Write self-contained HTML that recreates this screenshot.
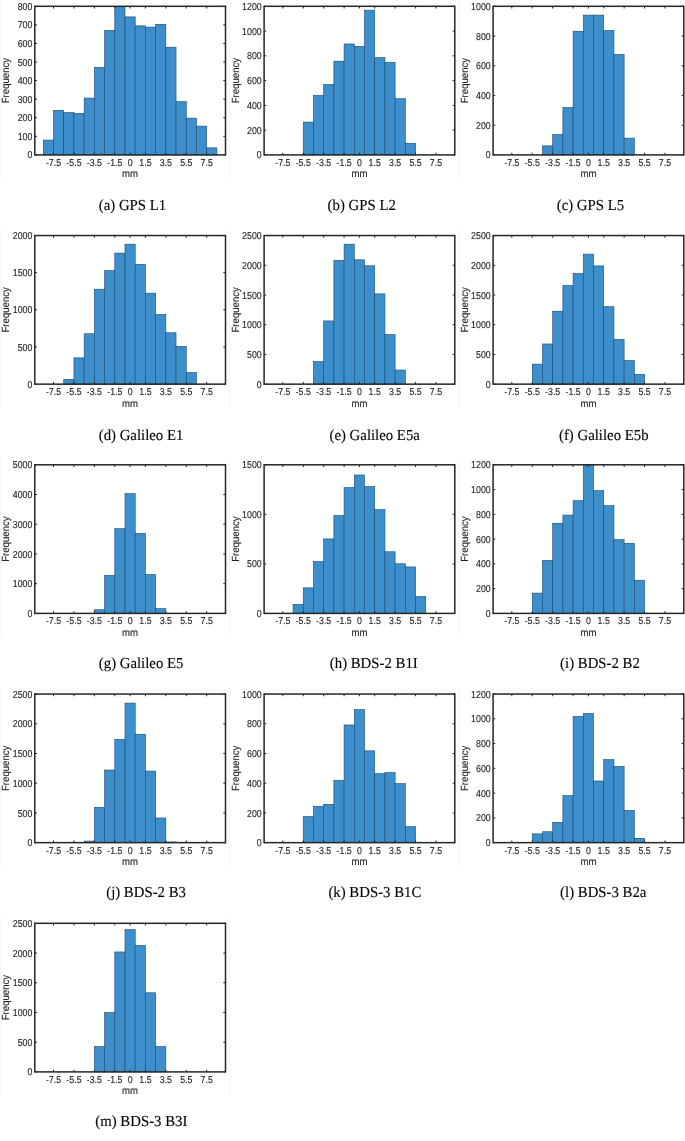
<!DOCTYPE html>
<html><head><meta charset="utf-8"><title>Histograms</title>
<style>
html,body{margin:0;padding:0;background:#fff;}
body{width:685px;height:1141px;overflow:hidden;}
svg{display:block;will-change:transform;text-rendering:geometricPrecision;font-family:"Liberation Sans",sans-serif;}
.cap{font-family:"Liberation Serif",serif;font-size:14.8px;fill:#000;stroke:#000;stroke-width:0.12px;}
</style></head><body>
<svg width="685" height="1141" viewBox="0 0 685 1141">
<path d="M1 0V178.2M229.5 0V178.2M458.9 0V178.2M1 229.25V407.45M229.5 229.25V407.45M458.9 229.25V407.45M1 458.5V636.7M229.5 458.5V636.7M458.9 458.5V636.7M1 687.75V865.95M229.5 687.75V865.95M458.9 687.75V865.95M1 917V1095.2M229.5 917V1095.2" stroke="#f6f6f6" stroke-width="1.2" fill="none"/>
<g fill="#3d8fcc" stroke="#1c4a72" stroke-width="0.6"><rect x="43.31" y="140.04" width="10.21" height="14.86"/><rect x="53.52" y="110.32" width="10.21" height="44.58"/><rect x="63.73" y="112.55" width="10.21" height="42.35"/><rect x="73.94" y="113.29" width="10.21" height="41.61"/><rect x="84.15" y="98.06" width="10.21" height="56.84"/><rect x="94.36" y="67.41" width="10.21" height="87.49"/><rect x="104.57" y="30.45" width="10.21" height="124.45"/><rect x="114.78" y="6.3" width="10.21" height="148.6"/><rect x="124.99" y="16.89" width="10.21" height="138.01"/><rect x="135.2" y="25.8" width="10.21" height="129.1"/><rect x="145.41" y="27.1" width="10.21" height="127.8"/><rect x="155.62" y="24.32" width="10.21" height="130.58"/><rect x="165.83" y="47.17" width="10.21" height="107.73"/><rect x="176.05" y="101.59" width="10.21" height="53.31"/><rect x="186.25" y="118.12" width="10.21" height="36.78"/><rect x="196.47" y="126.11" width="10.21" height="28.79"/><rect x="206.68" y="147.84" width="10.21" height="7.06"/></g>
<path d="M53.52 154.9v-2.2M53.52 6.3v2.2M73.94 154.9v-2.2M73.94 6.3v2.2M94.36 154.9v-2.2M94.36 6.3v2.2M114.78 154.9v-2.2M114.78 6.3v2.2M130.1 154.9v-2.2M130.1 6.3v2.2M145.41 154.9v-2.2M145.41 6.3v2.2M165.83 154.9v-2.2M165.83 6.3v2.2M186.25 154.9v-2.2M186.25 6.3v2.2M206.68 154.9v-2.2M206.68 6.3v2.2M34.8 154.9h2.2M225.5 154.9h-2.2M34.8 136.33h2.2M225.5 136.33h-2.2M34.8 117.75h2.2M225.5 117.75h-2.2M34.8 99.18h2.2M225.5 99.18h-2.2M34.8 80.6h2.2M225.5 80.6h-2.2M34.8 62.03h2.2M225.5 62.03h-2.2M34.8 43.45h2.2M225.5 43.45h-2.2M34.8 24.88h2.2M225.5 24.88h-2.2M34.8 6.3h2.2M225.5 6.3h-2.2" stroke="#262626" stroke-width="1" fill="none"/>
<rect x="34.8" y="6.3" width="190.7" height="148.6" fill="none" stroke="#262626" stroke-width="1.5"/>
<g font-size="8.8" fill="#262626" stroke="#262626" stroke-width="0.12"><text transform="translate(32.4 158.49) scale(1 1.14)" text-anchor="end">0</text><text transform="translate(32.4 139.92) scale(1 1.14)" text-anchor="end">100</text><text transform="translate(32.4 121.34) scale(1 1.14)" text-anchor="end">200</text><text transform="translate(32.4 102.77) scale(1 1.14)" text-anchor="end">300</text><text transform="translate(32.4 84.19) scale(1 1.14)" text-anchor="end">400</text><text transform="translate(32.4 65.62) scale(1 1.14)" text-anchor="end">500</text><text transform="translate(32.4 47.04) scale(1 1.14)" text-anchor="end">600</text><text transform="translate(32.4 28.47) scale(1 1.14)" text-anchor="end">700</text><text transform="translate(32.4 9.89) scale(1 1.14)" text-anchor="end">800</text><text transform="translate(53.52 165.9) scale(1 1.14)" text-anchor="middle">-7.5</text><text transform="translate(73.94 165.9) scale(1 1.14)" text-anchor="middle">-5.5</text><text transform="translate(94.36 165.9) scale(1 1.14)" text-anchor="middle">-3.5</text><text transform="translate(114.78 165.9) scale(1 1.14)" text-anchor="middle">-1.5</text><text transform="translate(130.1 165.9) scale(1 1.14)" text-anchor="middle">0</text><text transform="translate(145.41 165.9) scale(1 1.14)" text-anchor="middle">1.5</text><text transform="translate(165.83 165.9) scale(1 1.14)" text-anchor="middle">3.5</text><text transform="translate(186.25 165.9) scale(1 1.14)" text-anchor="middle">5.5</text><text transform="translate(206.68 165.9) scale(1 1.14)" text-anchor="middle">7.5</text></g>
<text font-size="9.6" fill="#262626" stroke="#262626" stroke-width="0.12" text-anchor="middle" transform="translate(9.2 80.6) rotate(-90) scale(1 1.08)">Frequency</text>
<text font-size="9.6" fill="#262626" stroke="#262626" stroke-width="0.12" text-anchor="middle" transform="translate(130.1 177.4) scale(1 1.08)">mm</text>
<text class="cap" transform="translate(98.8 209.6) scale(1 1.03)">(a) GPS L1</text>
<g fill="#3d8fcc" stroke="#1c4a72" stroke-width="0.6"><rect x="303.25" y="122.08" width="10.21" height="32.82"/><rect x="313.45" y="95.34" width="10.21" height="59.56"/><rect x="323.66" y="84.44" width="10.21" height="70.46"/><rect x="333.88" y="61.16" width="10.21" height="93.74"/><rect x="344.08" y="43.95" width="10.21" height="110.95"/><rect x="354.29" y="46.3" width="10.21" height="108.6"/><rect x="364.5" y="10.14" width="10.21" height="144.76"/><rect x="374.71" y="57.57" width="10.21" height="97.33"/><rect x="384.92" y="62.27" width="10.21" height="92.63"/><rect x="395.13" y="98.68" width="10.21" height="56.22"/><rect x="405.34" y="143.26" width="10.21" height="11.64"/></g>
<path d="M282.82 154.9v-2.2M282.82 6.3v2.2M303.25 154.9v-2.2M303.25 6.3v2.2M323.66 154.9v-2.2M323.66 6.3v2.2M344.08 154.9v-2.2M344.08 6.3v2.2M359.4 154.9v-2.2M359.4 6.3v2.2M374.71 154.9v-2.2M374.71 6.3v2.2M395.13 154.9v-2.2M395.13 6.3v2.2M415.55 154.9v-2.2M415.55 6.3v2.2M435.97 154.9v-2.2M435.97 6.3v2.2M264.1 154.9h2.2M454.8 154.9h-2.2M264.1 130.13h2.2M454.8 130.13h-2.2M264.1 105.37h2.2M454.8 105.37h-2.2M264.1 80.6h2.2M454.8 80.6h-2.2M264.1 55.83h2.2M454.8 55.83h-2.2M264.1 31.07h2.2M454.8 31.07h-2.2M264.1 6.3h2.2M454.8 6.3h-2.2" stroke="#262626" stroke-width="1" fill="none"/>
<rect x="264.1" y="6.3" width="190.7" height="148.6" fill="none" stroke="#262626" stroke-width="1.5"/>
<g font-size="8.8" fill="#262626" stroke="#262626" stroke-width="0.12"><text transform="translate(261.7 158.49) scale(1 1.14)" text-anchor="end">0</text><text transform="translate(261.7 133.72) scale(1 1.14)" text-anchor="end">200</text><text transform="translate(261.7 108.96) scale(1 1.14)" text-anchor="end">400</text><text transform="translate(261.7 84.19) scale(1 1.14)" text-anchor="end">600</text><text transform="translate(261.7 59.42) scale(1 1.14)" text-anchor="end">800</text><text transform="translate(261.7 34.66) scale(1 1.14)" text-anchor="end">1000</text><text transform="translate(261.7 9.89) scale(1 1.14)" text-anchor="end">1200</text><text transform="translate(282.82 165.9) scale(1 1.14)" text-anchor="middle">-7.5</text><text transform="translate(303.25 165.9) scale(1 1.14)" text-anchor="middle">-5.5</text><text transform="translate(323.66 165.9) scale(1 1.14)" text-anchor="middle">-3.5</text><text transform="translate(344.08 165.9) scale(1 1.14)" text-anchor="middle">-1.5</text><text transform="translate(359.4 165.9) scale(1 1.14)" text-anchor="middle">0</text><text transform="translate(374.71 165.9) scale(1 1.14)" text-anchor="middle">1.5</text><text transform="translate(395.13 165.9) scale(1 1.14)" text-anchor="middle">3.5</text><text transform="translate(415.55 165.9) scale(1 1.14)" text-anchor="middle">5.5</text><text transform="translate(435.97 165.9) scale(1 1.14)" text-anchor="middle">7.5</text></g>
<text font-size="9.6" fill="#262626" stroke="#262626" stroke-width="0.12" text-anchor="middle" transform="translate(238.5 80.6) rotate(-90) scale(1 1.08)">Frequency</text>
<text font-size="9.6" fill="#262626" stroke="#262626" stroke-width="0.12" text-anchor="middle" transform="translate(359.4 177.4) scale(1 1.08)">mm</text>
<text class="cap" transform="translate(327.6 209.6) scale(1 1.03)">(b) GPS L2</text>
<g fill="#3d8fcc" stroke="#1c4a72" stroke-width="0.6"><rect x="542.45" y="145.84" width="10.21" height="9.06"/><rect x="552.66" y="134.69" width="10.21" height="20.21"/><rect x="562.88" y="107.5" width="10.21" height="47.4"/><rect x="573.08" y="31.26" width="10.21" height="123.64"/><rect x="583.29" y="15.07" width="10.21" height="139.83"/><rect x="593.5" y="15.07" width="10.21" height="139.83"/><rect x="603.72" y="30.52" width="10.21" height="124.38"/><rect x="613.92" y="54.45" width="10.21" height="100.45"/><rect x="624.13" y="138.11" width="10.21" height="16.79"/></g>
<path d="M511.82 154.9v-2.2M511.82 6.3v2.2M532.25 154.9v-2.2M532.25 6.3v2.2M552.66 154.9v-2.2M552.66 6.3v2.2M573.08 154.9v-2.2M573.08 6.3v2.2M588.4 154.9v-2.2M588.4 6.3v2.2M603.72 154.9v-2.2M603.72 6.3v2.2M624.13 154.9v-2.2M624.13 6.3v2.2M644.55 154.9v-2.2M644.55 6.3v2.2M664.98 154.9v-2.2M664.98 6.3v2.2M493.1 154.9h2.2M683.8 154.9h-2.2M493.1 125.18h2.2M683.8 125.18h-2.2M493.1 95.46h2.2M683.8 95.46h-2.2M493.1 65.74h2.2M683.8 65.74h-2.2M493.1 36.02h2.2M683.8 36.02h-2.2M493.1 6.3h2.2M683.8 6.3h-2.2" stroke="#262626" stroke-width="1" fill="none"/>
<rect x="493.1" y="6.3" width="190.7" height="148.6" fill="none" stroke="#262626" stroke-width="1.5"/>
<g font-size="8.8" fill="#262626" stroke="#262626" stroke-width="0.12"><text transform="translate(490.7 158.49) scale(1 1.14)" text-anchor="end">0</text><text transform="translate(490.7 128.77) scale(1 1.14)" text-anchor="end">200</text><text transform="translate(490.7 99.05) scale(1 1.14)" text-anchor="end">400</text><text transform="translate(490.7 69.33) scale(1 1.14)" text-anchor="end">600</text><text transform="translate(490.7 39.61) scale(1 1.14)" text-anchor="end">800</text><text transform="translate(490.7 9.89) scale(1 1.14)" text-anchor="end">1000</text><text transform="translate(511.82 165.9) scale(1 1.14)" text-anchor="middle">-7.5</text><text transform="translate(532.25 165.9) scale(1 1.14)" text-anchor="middle">-5.5</text><text transform="translate(552.66 165.9) scale(1 1.14)" text-anchor="middle">-3.5</text><text transform="translate(573.08 165.9) scale(1 1.14)" text-anchor="middle">-1.5</text><text transform="translate(588.4 165.9) scale(1 1.14)" text-anchor="middle">0</text><text transform="translate(603.72 165.9) scale(1 1.14)" text-anchor="middle">1.5</text><text transform="translate(624.13 165.9) scale(1 1.14)" text-anchor="middle">3.5</text><text transform="translate(644.55 165.9) scale(1 1.14)" text-anchor="middle">5.5</text><text transform="translate(664.98 165.9) scale(1 1.14)" text-anchor="middle">7.5</text></g>
<text font-size="9.6" fill="#262626" stroke="#262626" stroke-width="0.12" text-anchor="middle" transform="translate(467.5 80.6) rotate(-90) scale(1 1.08)">Frequency</text>
<text font-size="9.6" fill="#262626" stroke="#262626" stroke-width="0.12" text-anchor="middle" transform="translate(588.4 177.4) scale(1 1.08)">mm</text>
<text class="cap" transform="translate(556.7 209.6) scale(1 1.03)">(c) GPS L5</text>
<g fill="#3d8fcc" stroke="#1c4a72" stroke-width="0.6"><rect x="63.73" y="379.32" width="10.21" height="4.83"/><rect x="73.94" y="357.85" width="10.21" height="26.3"/><rect x="84.15" y="333.77" width="10.21" height="50.38"/><rect x="94.36" y="289.19" width="10.21" height="94.96"/><rect x="104.57" y="270.62" width="10.21" height="113.53"/><rect x="114.78" y="253.08" width="10.21" height="131.07"/><rect x="124.99" y="244.17" width="10.21" height="139.98"/><rect x="135.2" y="264.38" width="10.21" height="119.77"/><rect x="145.41" y="293.13" width="10.21" height="91.02"/><rect x="155.62" y="314.46" width="10.21" height="69.69"/><rect x="165.83" y="332.73" width="10.21" height="51.42"/><rect x="176.05" y="346.33" width="10.21" height="37.82"/><rect x="186.25" y="372.48" width="10.21" height="11.67"/></g>
<path d="M53.52 384.15v-2.2M53.52 235.55v2.2M73.94 384.15v-2.2M73.94 235.55v2.2M94.36 384.15v-2.2M94.36 235.55v2.2M114.78 384.15v-2.2M114.78 235.55v2.2M130.1 384.15v-2.2M130.1 235.55v2.2M145.41 384.15v-2.2M145.41 235.55v2.2M165.83 384.15v-2.2M165.83 235.55v2.2M186.25 384.15v-2.2M186.25 235.55v2.2M206.68 384.15v-2.2M206.68 235.55v2.2M34.8 384.15h2.2M225.5 384.15h-2.2M34.8 347h2.2M225.5 347h-2.2M34.8 309.85h2.2M225.5 309.85h-2.2M34.8 272.7h2.2M225.5 272.7h-2.2M34.8 235.55h2.2M225.5 235.55h-2.2" stroke="#262626" stroke-width="1" fill="none"/>
<rect x="34.8" y="235.55" width="190.7" height="148.6" fill="none" stroke="#262626" stroke-width="1.5"/>
<g font-size="8.8" fill="#262626" stroke="#262626" stroke-width="0.12"><text transform="translate(32.4 387.74) scale(1 1.14)" text-anchor="end">0</text><text transform="translate(32.4 350.59) scale(1 1.14)" text-anchor="end">500</text><text transform="translate(32.4 313.44) scale(1 1.14)" text-anchor="end">1000</text><text transform="translate(32.4 276.29) scale(1 1.14)" text-anchor="end">1500</text><text transform="translate(32.4 239.14) scale(1 1.14)" text-anchor="end">2000</text><text transform="translate(53.52 395.15) scale(1 1.14)" text-anchor="middle">-7.5</text><text transform="translate(73.94 395.15) scale(1 1.14)" text-anchor="middle">-5.5</text><text transform="translate(94.36 395.15) scale(1 1.14)" text-anchor="middle">-3.5</text><text transform="translate(114.78 395.15) scale(1 1.14)" text-anchor="middle">-1.5</text><text transform="translate(130.1 395.15) scale(1 1.14)" text-anchor="middle">0</text><text transform="translate(145.41 395.15) scale(1 1.14)" text-anchor="middle">1.5</text><text transform="translate(165.83 395.15) scale(1 1.14)" text-anchor="middle">3.5</text><text transform="translate(186.25 395.15) scale(1 1.14)" text-anchor="middle">5.5</text><text transform="translate(206.68 395.15) scale(1 1.14)" text-anchor="middle">7.5</text></g>
<text font-size="9.6" fill="#262626" stroke="#262626" stroke-width="0.12" text-anchor="middle" transform="translate(9.2 309.85) rotate(-90) scale(1 1.08)">Frequency</text>
<text font-size="9.6" fill="#262626" stroke="#262626" stroke-width="0.12" text-anchor="middle" transform="translate(130.1 406.65) scale(1 1.08)">mm</text>
<text class="cap" transform="translate(98.7 440.1) scale(1 1.03)">(d) Galileo E1</text>
<g fill="#3d8fcc" stroke="#1c4a72" stroke-width="0.6"><rect x="313.45" y="361.5" width="10.21" height="22.65"/><rect x="323.66" y="320.91" width="10.21" height="63.24"/><rect x="333.88" y="260.28" width="10.21" height="123.87"/><rect x="344.08" y="244.17" width="10.21" height="139.98"/><rect x="354.29" y="259.8" width="10.21" height="124.35"/><rect x="364.5" y="265.8" width="10.21" height="118.35"/><rect x="374.71" y="293.86" width="10.21" height="90.29"/><rect x="384.92" y="334.64" width="10.21" height="49.51"/><rect x="395.13" y="370" width="10.21" height="14.15"/></g>
<path d="M282.82 384.15v-2.2M282.82 235.55v2.2M303.25 384.15v-2.2M303.25 235.55v2.2M323.66 384.15v-2.2M323.66 235.55v2.2M344.08 384.15v-2.2M344.08 235.55v2.2M359.4 384.15v-2.2M359.4 235.55v2.2M374.71 384.15v-2.2M374.71 235.55v2.2M395.13 384.15v-2.2M395.13 235.55v2.2M415.55 384.15v-2.2M415.55 235.55v2.2M435.97 384.15v-2.2M435.97 235.55v2.2M264.1 384.15h2.2M454.8 384.15h-2.2M264.1 354.43h2.2M454.8 354.43h-2.2M264.1 324.71h2.2M454.8 324.71h-2.2M264.1 294.99h2.2M454.8 294.99h-2.2M264.1 265.27h2.2M454.8 265.27h-2.2M264.1 235.55h2.2M454.8 235.55h-2.2" stroke="#262626" stroke-width="1" fill="none"/>
<rect x="264.1" y="235.55" width="190.7" height="148.6" fill="none" stroke="#262626" stroke-width="1.5"/>
<g font-size="8.8" fill="#262626" stroke="#262626" stroke-width="0.12"><text transform="translate(261.7 387.74) scale(1 1.14)" text-anchor="end">0</text><text transform="translate(261.7 358.02) scale(1 1.14)" text-anchor="end">500</text><text transform="translate(261.7 328.3) scale(1 1.14)" text-anchor="end">1000</text><text transform="translate(261.7 298.58) scale(1 1.14)" text-anchor="end">1500</text><text transform="translate(261.7 268.86) scale(1 1.14)" text-anchor="end">2000</text><text transform="translate(261.7 239.14) scale(1 1.14)" text-anchor="end">2500</text><text transform="translate(282.82 395.15) scale(1 1.14)" text-anchor="middle">-7.5</text><text transform="translate(303.25 395.15) scale(1 1.14)" text-anchor="middle">-5.5</text><text transform="translate(323.66 395.15) scale(1 1.14)" text-anchor="middle">-3.5</text><text transform="translate(344.08 395.15) scale(1 1.14)" text-anchor="middle">-1.5</text><text transform="translate(359.4 395.15) scale(1 1.14)" text-anchor="middle">0</text><text transform="translate(374.71 395.15) scale(1 1.14)" text-anchor="middle">1.5</text><text transform="translate(395.13 395.15) scale(1 1.14)" text-anchor="middle">3.5</text><text transform="translate(415.55 395.15) scale(1 1.14)" text-anchor="middle">5.5</text><text transform="translate(435.97 395.15) scale(1 1.14)" text-anchor="middle">7.5</text></g>
<text font-size="9.6" fill="#262626" stroke="#262626" stroke-width="0.12" text-anchor="middle" transform="translate(238.5 309.85) rotate(-90) scale(1 1.08)">Frequency</text>
<text font-size="9.6" fill="#262626" stroke="#262626" stroke-width="0.12" text-anchor="middle" transform="translate(359.4 406.65) scale(1 1.08)">mm</text>
<text class="cap" transform="translate(329.5 440.1) scale(1 1.03)">(e) Galileo E5a</text>
<g fill="#3d8fcc" stroke="#1c4a72" stroke-width="0.6"><rect x="532.25" y="364.12" width="10.21" height="20.03"/><rect x="542.45" y="343.97" width="10.21" height="40.18"/><rect x="552.66" y="311.22" width="10.21" height="72.93"/><rect x="562.88" y="285.54" width="10.21" height="98.61"/><rect x="573.08" y="273.53" width="10.21" height="110.62"/><rect x="583.29" y="254.1" width="10.21" height="130.05"/><rect x="593.5" y="265.92" width="10.21" height="118.23"/><rect x="603.72" y="306.7" width="10.21" height="77.45"/><rect x="613.92" y="339.27" width="10.21" height="44.88"/><rect x="624.13" y="360.49" width="10.21" height="23.66"/><rect x="634.35" y="374.34" width="10.21" height="9.81"/></g>
<path d="M511.82 384.15v-2.2M511.82 235.55v2.2M532.25 384.15v-2.2M532.25 235.55v2.2M552.66 384.15v-2.2M552.66 235.55v2.2M573.08 384.15v-2.2M573.08 235.55v2.2M588.4 384.15v-2.2M588.4 235.55v2.2M603.72 384.15v-2.2M603.72 235.55v2.2M624.13 384.15v-2.2M624.13 235.55v2.2M644.55 384.15v-2.2M644.55 235.55v2.2M664.98 384.15v-2.2M664.98 235.55v2.2M493.1 384.15h2.2M683.8 384.15h-2.2M493.1 354.43h2.2M683.8 354.43h-2.2M493.1 324.71h2.2M683.8 324.71h-2.2M493.1 294.99h2.2M683.8 294.99h-2.2M493.1 265.27h2.2M683.8 265.27h-2.2M493.1 235.55h2.2M683.8 235.55h-2.2" stroke="#262626" stroke-width="1" fill="none"/>
<rect x="493.1" y="235.55" width="190.7" height="148.6" fill="none" stroke="#262626" stroke-width="1.5"/>
<g font-size="8.8" fill="#262626" stroke="#262626" stroke-width="0.12"><text transform="translate(490.7 387.74) scale(1 1.14)" text-anchor="end">0</text><text transform="translate(490.7 358.02) scale(1 1.14)" text-anchor="end">500</text><text transform="translate(490.7 328.3) scale(1 1.14)" text-anchor="end">1000</text><text transform="translate(490.7 298.58) scale(1 1.14)" text-anchor="end">1500</text><text transform="translate(490.7 268.86) scale(1 1.14)" text-anchor="end">2000</text><text transform="translate(490.7 239.14) scale(1 1.14)" text-anchor="end">2500</text><text transform="translate(511.82 395.15) scale(1 1.14)" text-anchor="middle">-7.5</text><text transform="translate(532.25 395.15) scale(1 1.14)" text-anchor="middle">-5.5</text><text transform="translate(552.66 395.15) scale(1 1.14)" text-anchor="middle">-3.5</text><text transform="translate(573.08 395.15) scale(1 1.14)" text-anchor="middle">-1.5</text><text transform="translate(588.4 395.15) scale(1 1.14)" text-anchor="middle">0</text><text transform="translate(603.72 395.15) scale(1 1.14)" text-anchor="middle">1.5</text><text transform="translate(624.13 395.15) scale(1 1.14)" text-anchor="middle">3.5</text><text transform="translate(644.55 395.15) scale(1 1.14)" text-anchor="middle">5.5</text><text transform="translate(664.98 395.15) scale(1 1.14)" text-anchor="middle">7.5</text></g>
<text font-size="9.6" fill="#262626" stroke="#262626" stroke-width="0.12" text-anchor="middle" transform="translate(467.5 309.85) rotate(-90) scale(1 1.08)">Frequency</text>
<text font-size="9.6" fill="#262626" stroke="#262626" stroke-width="0.12" text-anchor="middle" transform="translate(588.4 406.65) scale(1 1.08)">mm</text>
<text class="cap" transform="translate(559 440.1) scale(1 1.03)">(f) Galileo E5b</text>
<g fill="#3d8fcc" stroke="#1c4a72" stroke-width="0.6"><rect x="94.36" y="609.74" width="10.21" height="3.66"/><rect x="104.57" y="575.42" width="10.21" height="37.98"/><rect x="114.78" y="528.64" width="10.21" height="84.76"/><rect x="124.99" y="493.6" width="10.21" height="119.8"/><rect x="135.2" y="533.33" width="10.21" height="80.07"/><rect x="145.41" y="574.53" width="10.21" height="38.87"/><rect x="155.62" y="608.59" width="10.21" height="4.81"/></g>
<path d="M53.52 613.4v-2.2M53.52 464.8v2.2M73.94 613.4v-2.2M73.94 464.8v2.2M94.36 613.4v-2.2M94.36 464.8v2.2M114.78 613.4v-2.2M114.78 464.8v2.2M130.1 613.4v-2.2M130.1 464.8v2.2M145.41 613.4v-2.2M145.41 464.8v2.2M165.83 613.4v-2.2M165.83 464.8v2.2M186.25 613.4v-2.2M186.25 464.8v2.2M206.68 613.4v-2.2M206.68 464.8v2.2M34.8 613.4h2.2M225.5 613.4h-2.2M34.8 583.68h2.2M225.5 583.68h-2.2M34.8 553.96h2.2M225.5 553.96h-2.2M34.8 524.24h2.2M225.5 524.24h-2.2M34.8 494.52h2.2M225.5 494.52h-2.2M34.8 464.8h2.2M225.5 464.8h-2.2" stroke="#262626" stroke-width="1" fill="none"/>
<rect x="34.8" y="464.8" width="190.7" height="148.6" fill="none" stroke="#262626" stroke-width="1.5"/>
<g font-size="8.8" fill="#262626" stroke="#262626" stroke-width="0.12"><text transform="translate(32.4 616.99) scale(1 1.14)" text-anchor="end">0</text><text transform="translate(32.4 587.27) scale(1 1.14)" text-anchor="end">1000</text><text transform="translate(32.4 557.55) scale(1 1.14)" text-anchor="end">2000</text><text transform="translate(32.4 527.83) scale(1 1.14)" text-anchor="end">3000</text><text transform="translate(32.4 498.11) scale(1 1.14)" text-anchor="end">4000</text><text transform="translate(32.4 468.39) scale(1 1.14)" text-anchor="end">5000</text><text transform="translate(53.52 624.4) scale(1 1.14)" text-anchor="middle">-7.5</text><text transform="translate(73.94 624.4) scale(1 1.14)" text-anchor="middle">-5.5</text><text transform="translate(94.36 624.4) scale(1 1.14)" text-anchor="middle">-3.5</text><text transform="translate(114.78 624.4) scale(1 1.14)" text-anchor="middle">-1.5</text><text transform="translate(130.1 624.4) scale(1 1.14)" text-anchor="middle">0</text><text transform="translate(145.41 624.4) scale(1 1.14)" text-anchor="middle">1.5</text><text transform="translate(165.83 624.4) scale(1 1.14)" text-anchor="middle">3.5</text><text transform="translate(186.25 624.4) scale(1 1.14)" text-anchor="middle">5.5</text><text transform="translate(206.68 624.4) scale(1 1.14)" text-anchor="middle">7.5</text></g>
<text font-size="9.6" fill="#262626" stroke="#262626" stroke-width="0.12" text-anchor="middle" transform="translate(9.2 539.1) rotate(-90) scale(1 1.08)">Frequency</text>
<text font-size="9.6" fill="#262626" stroke="#262626" stroke-width="0.12" text-anchor="middle" transform="translate(130.1 635.9) scale(1 1.08)">mm</text>
<text class="cap" transform="translate(98.8 667.9) scale(1 1.03)">(g) Galileo E5</text>
<g fill="#3d8fcc" stroke="#1c4a72" stroke-width="0.6"><rect x="293.03" y="604.38" width="10.21" height="9.02"/><rect x="303.25" y="587.84" width="10.21" height="25.56"/><rect x="313.45" y="561.49" width="10.21" height="51.91"/><rect x="323.66" y="538.9" width="10.21" height="74.5"/><rect x="333.88" y="515.52" width="10.21" height="97.88"/><rect x="344.08" y="487.49" width="10.21" height="125.91"/><rect x="354.29" y="475" width="10.21" height="138.4"/><rect x="364.5" y="486.59" width="10.21" height="126.81"/><rect x="374.71" y="509.68" width="10.21" height="103.72"/><rect x="384.92" y="551.78" width="10.21" height="61.62"/><rect x="395.13" y="563.77" width="10.21" height="49.63"/><rect x="405.34" y="566.94" width="10.21" height="46.46"/><rect x="415.55" y="596.56" width="10.21" height="16.84"/></g>
<path d="M282.82 613.4v-2.2M282.82 464.8v2.2M303.25 613.4v-2.2M303.25 464.8v2.2M323.66 613.4v-2.2M323.66 464.8v2.2M344.08 613.4v-2.2M344.08 464.8v2.2M359.4 613.4v-2.2M359.4 464.8v2.2M374.71 613.4v-2.2M374.71 464.8v2.2M395.13 613.4v-2.2M395.13 464.8v2.2M415.55 613.4v-2.2M415.55 464.8v2.2M435.97 613.4v-2.2M435.97 464.8v2.2M264.1 613.4h2.2M454.8 613.4h-2.2M264.1 563.87h2.2M454.8 563.87h-2.2M264.1 514.33h2.2M454.8 514.33h-2.2M264.1 464.8h2.2M454.8 464.8h-2.2" stroke="#262626" stroke-width="1" fill="none"/>
<rect x="264.1" y="464.8" width="190.7" height="148.6" fill="none" stroke="#262626" stroke-width="1.5"/>
<g font-size="8.8" fill="#262626" stroke="#262626" stroke-width="0.12"><text transform="translate(261.7 616.99) scale(1 1.14)" text-anchor="end">0</text><text transform="translate(261.7 567.46) scale(1 1.14)" text-anchor="end">500</text><text transform="translate(261.7 517.92) scale(1 1.14)" text-anchor="end">1000</text><text transform="translate(261.7 468.39) scale(1 1.14)" text-anchor="end">1500</text><text transform="translate(282.82 624.4) scale(1 1.14)" text-anchor="middle">-7.5</text><text transform="translate(303.25 624.4) scale(1 1.14)" text-anchor="middle">-5.5</text><text transform="translate(323.66 624.4) scale(1 1.14)" text-anchor="middle">-3.5</text><text transform="translate(344.08 624.4) scale(1 1.14)" text-anchor="middle">-1.5</text><text transform="translate(359.4 624.4) scale(1 1.14)" text-anchor="middle">0</text><text transform="translate(374.71 624.4) scale(1 1.14)" text-anchor="middle">1.5</text><text transform="translate(395.13 624.4) scale(1 1.14)" text-anchor="middle">3.5</text><text transform="translate(415.55 624.4) scale(1 1.14)" text-anchor="middle">5.5</text><text transform="translate(435.97 624.4) scale(1 1.14)" text-anchor="middle">7.5</text></g>
<text font-size="9.6" fill="#262626" stroke="#262626" stroke-width="0.12" text-anchor="middle" transform="translate(238.5 539.1) rotate(-90) scale(1 1.08)">Frequency</text>
<text font-size="9.6" fill="#262626" stroke="#262626" stroke-width="0.12" text-anchor="middle" transform="translate(359.4 635.9) scale(1 1.08)">mm</text>
<text class="cap" transform="translate(329.8 667.9) scale(1 1.03)">(h) BDS-2 B1I</text>
<g fill="#3d8fcc" stroke="#1c4a72" stroke-width="0.6"><rect x="532.25" y="593.09" width="10.21" height="20.31"/><rect x="542.45" y="560.4" width="10.21" height="53"/><rect x="552.66" y="523.25" width="10.21" height="90.15"/><rect x="562.88" y="515.08" width="10.21" height="98.32"/><rect x="573.08" y="500.71" width="10.21" height="112.69"/><rect x="583.29" y="464.8" width="10.21" height="148.6"/><rect x="593.5" y="490.68" width="10.21" height="122.72"/><rect x="603.72" y="505.67" width="10.21" height="107.73"/><rect x="613.92" y="539.6" width="10.21" height="73.8"/><rect x="624.13" y="543.31" width="10.21" height="70.09"/><rect x="634.35" y="580.21" width="10.21" height="33.19"/></g>
<path d="M511.82 613.4v-2.2M511.82 464.8v2.2M532.25 613.4v-2.2M532.25 464.8v2.2M552.66 613.4v-2.2M552.66 464.8v2.2M573.08 613.4v-2.2M573.08 464.8v2.2M588.4 613.4v-2.2M588.4 464.8v2.2M603.72 613.4v-2.2M603.72 464.8v2.2M624.13 613.4v-2.2M624.13 464.8v2.2M644.55 613.4v-2.2M644.55 464.8v2.2M664.98 613.4v-2.2M664.98 464.8v2.2M493.1 613.4h2.2M683.8 613.4h-2.2M493.1 588.63h2.2M683.8 588.63h-2.2M493.1 563.87h2.2M683.8 563.87h-2.2M493.1 539.1h2.2M683.8 539.1h-2.2M493.1 514.33h2.2M683.8 514.33h-2.2M493.1 489.57h2.2M683.8 489.57h-2.2M493.1 464.8h2.2M683.8 464.8h-2.2" stroke="#262626" stroke-width="1" fill="none"/>
<rect x="493.1" y="464.8" width="190.7" height="148.6" fill="none" stroke="#262626" stroke-width="1.5"/>
<g font-size="8.8" fill="#262626" stroke="#262626" stroke-width="0.12"><text transform="translate(490.7 616.99) scale(1 1.14)" text-anchor="end">0</text><text transform="translate(490.7 592.22) scale(1 1.14)" text-anchor="end">200</text><text transform="translate(490.7 567.46) scale(1 1.14)" text-anchor="end">400</text><text transform="translate(490.7 542.69) scale(1 1.14)" text-anchor="end">600</text><text transform="translate(490.7 517.92) scale(1 1.14)" text-anchor="end">800</text><text transform="translate(490.7 493.16) scale(1 1.14)" text-anchor="end">1000</text><text transform="translate(490.7 468.39) scale(1 1.14)" text-anchor="end">1200</text><text transform="translate(511.82 624.4) scale(1 1.14)" text-anchor="middle">-7.5</text><text transform="translate(532.25 624.4) scale(1 1.14)" text-anchor="middle">-5.5</text><text transform="translate(552.66 624.4) scale(1 1.14)" text-anchor="middle">-3.5</text><text transform="translate(573.08 624.4) scale(1 1.14)" text-anchor="middle">-1.5</text><text transform="translate(588.4 624.4) scale(1 1.14)" text-anchor="middle">0</text><text transform="translate(603.72 624.4) scale(1 1.14)" text-anchor="middle">1.5</text><text transform="translate(624.13 624.4) scale(1 1.14)" text-anchor="middle">3.5</text><text transform="translate(644.55 624.4) scale(1 1.14)" text-anchor="middle">5.5</text><text transform="translate(664.98 624.4) scale(1 1.14)" text-anchor="middle">7.5</text></g>
<text font-size="9.6" fill="#262626" stroke="#262626" stroke-width="0.12" text-anchor="middle" transform="translate(467.5 539.1) rotate(-90) scale(1 1.08)">Frequency</text>
<text font-size="9.6" fill="#262626" stroke="#262626" stroke-width="0.12" text-anchor="middle" transform="translate(588.4 635.9) scale(1 1.08)">mm</text>
<text class="cap" transform="translate(560.1 667.9) scale(1 1.03)">(i) BDS-2 B2</text>
<g fill="#3d8fcc" stroke="#1c4a72" stroke-width="0.6"><rect x="84.15" y="841.05" width="10.21" height="1.6"/><rect x="94.36" y="807.28" width="10.21" height="35.37"/><rect x="104.57" y="770.01" width="10.21" height="72.64"/><rect x="114.78" y="739.34" width="10.21" height="103.31"/><rect x="124.99" y="703.08" width="10.21" height="139.57"/><rect x="135.2" y="734.23" width="10.21" height="108.42"/><rect x="145.41" y="771.08" width="10.21" height="71.57"/><rect x="155.62" y="817.98" width="10.21" height="24.67"/><rect x="165.83" y="841.94" width="10.21" height="0.71"/></g>
<path d="M53.52 842.65v-2.2M53.52 694.05v2.2M73.94 842.65v-2.2M73.94 694.05v2.2M94.36 842.65v-2.2M94.36 694.05v2.2M114.78 842.65v-2.2M114.78 694.05v2.2M130.1 842.65v-2.2M130.1 694.05v2.2M145.41 842.65v-2.2M145.41 694.05v2.2M165.83 842.65v-2.2M165.83 694.05v2.2M186.25 842.65v-2.2M186.25 694.05v2.2M206.68 842.65v-2.2M206.68 694.05v2.2M34.8 842.65h2.2M225.5 842.65h-2.2M34.8 812.93h2.2M225.5 812.93h-2.2M34.8 783.21h2.2M225.5 783.21h-2.2M34.8 753.49h2.2M225.5 753.49h-2.2M34.8 723.77h2.2M225.5 723.77h-2.2M34.8 694.05h2.2M225.5 694.05h-2.2" stroke="#262626" stroke-width="1" fill="none"/>
<rect x="34.8" y="694.05" width="190.7" height="148.6" fill="none" stroke="#262626" stroke-width="1.5"/>
<g font-size="8.8" fill="#262626" stroke="#262626" stroke-width="0.12"><text transform="translate(32.4 846.24) scale(1 1.14)" text-anchor="end">0</text><text transform="translate(32.4 816.52) scale(1 1.14)" text-anchor="end">500</text><text transform="translate(32.4 786.8) scale(1 1.14)" text-anchor="end">1000</text><text transform="translate(32.4 757.08) scale(1 1.14)" text-anchor="end">1500</text><text transform="translate(32.4 727.36) scale(1 1.14)" text-anchor="end">2000</text><text transform="translate(32.4 697.64) scale(1 1.14)" text-anchor="end">2500</text><text transform="translate(53.52 853.65) scale(1 1.14)" text-anchor="middle">-7.5</text><text transform="translate(73.94 853.65) scale(1 1.14)" text-anchor="middle">-5.5</text><text transform="translate(94.36 853.65) scale(1 1.14)" text-anchor="middle">-3.5</text><text transform="translate(114.78 853.65) scale(1 1.14)" text-anchor="middle">-1.5</text><text transform="translate(130.1 853.65) scale(1 1.14)" text-anchor="middle">0</text><text transform="translate(145.41 853.65) scale(1 1.14)" text-anchor="middle">1.5</text><text transform="translate(165.83 853.65) scale(1 1.14)" text-anchor="middle">3.5</text><text transform="translate(186.25 853.65) scale(1 1.14)" text-anchor="middle">5.5</text><text transform="translate(206.68 853.65) scale(1 1.14)" text-anchor="middle">7.5</text></g>
<text font-size="9.6" fill="#262626" stroke="#262626" stroke-width="0.12" text-anchor="middle" transform="translate(9.2 768.35) rotate(-90) scale(1 1.08)">Frequency</text>
<text font-size="9.6" fill="#262626" stroke="#262626" stroke-width="0.12" text-anchor="middle" transform="translate(130.1 865.15) scale(1 1.08)">mm</text>
<text class="cap" transform="translate(106.2 897) scale(1 1.03)">(j) BDS-2 B3</text>
<g fill="#3d8fcc" stroke="#1c4a72" stroke-width="0.6"><rect x="303.25" y="816.5" width="10.21" height="26.15"/><rect x="313.45" y="806.24" width="10.21" height="36.41"/><rect x="323.66" y="804.31" width="10.21" height="38.34"/><rect x="333.88" y="780.24" width="10.21" height="62.41"/><rect x="344.08" y="724.96" width="10.21" height="117.69"/><rect x="354.29" y="709.65" width="10.21" height="133"/><rect x="364.5" y="750.82" width="10.21" height="91.83"/><rect x="374.71" y="773.7" width="10.21" height="68.95"/><rect x="384.92" y="772.51" width="10.21" height="70.14"/><rect x="395.13" y="783.66" width="10.21" height="58.99"/><rect x="405.34" y="826.6" width="10.21" height="16.05"/></g>
<path d="M282.82 842.65v-2.2M282.82 694.05v2.2M303.25 842.65v-2.2M303.25 694.05v2.2M323.66 842.65v-2.2M323.66 694.05v2.2M344.08 842.65v-2.2M344.08 694.05v2.2M359.4 842.65v-2.2M359.4 694.05v2.2M374.71 842.65v-2.2M374.71 694.05v2.2M395.13 842.65v-2.2M395.13 694.05v2.2M415.55 842.65v-2.2M415.55 694.05v2.2M435.97 842.65v-2.2M435.97 694.05v2.2M264.1 842.65h2.2M454.8 842.65h-2.2M264.1 812.93h2.2M454.8 812.93h-2.2M264.1 783.21h2.2M454.8 783.21h-2.2M264.1 753.49h2.2M454.8 753.49h-2.2M264.1 723.77h2.2M454.8 723.77h-2.2M264.1 694.05h2.2M454.8 694.05h-2.2" stroke="#262626" stroke-width="1" fill="none"/>
<rect x="264.1" y="694.05" width="190.7" height="148.6" fill="none" stroke="#262626" stroke-width="1.5"/>
<g font-size="8.8" fill="#262626" stroke="#262626" stroke-width="0.12"><text transform="translate(261.7 846.24) scale(1 1.14)" text-anchor="end">0</text><text transform="translate(261.7 816.52) scale(1 1.14)" text-anchor="end">200</text><text transform="translate(261.7 786.8) scale(1 1.14)" text-anchor="end">400</text><text transform="translate(261.7 757.08) scale(1 1.14)" text-anchor="end">600</text><text transform="translate(261.7 727.36) scale(1 1.14)" text-anchor="end">800</text><text transform="translate(261.7 697.64) scale(1 1.14)" text-anchor="end">1000</text><text transform="translate(282.82 853.65) scale(1 1.14)" text-anchor="middle">-7.5</text><text transform="translate(303.25 853.65) scale(1 1.14)" text-anchor="middle">-5.5</text><text transform="translate(323.66 853.65) scale(1 1.14)" text-anchor="middle">-3.5</text><text transform="translate(344.08 853.65) scale(1 1.14)" text-anchor="middle">-1.5</text><text transform="translate(359.4 853.65) scale(1 1.14)" text-anchor="middle">0</text><text transform="translate(374.71 853.65) scale(1 1.14)" text-anchor="middle">1.5</text><text transform="translate(395.13 853.65) scale(1 1.14)" text-anchor="middle">3.5</text><text transform="translate(415.55 853.65) scale(1 1.14)" text-anchor="middle">5.5</text><text transform="translate(435.97 853.65) scale(1 1.14)" text-anchor="middle">7.5</text></g>
<text font-size="9.6" fill="#262626" stroke="#262626" stroke-width="0.12" text-anchor="middle" transform="translate(238.5 768.35) rotate(-90) scale(1 1.08)">Frequency</text>
<text font-size="9.6" fill="#262626" stroke="#262626" stroke-width="0.12" text-anchor="middle" transform="translate(359.4 865.15) scale(1 1.08)">mm</text>
<text class="cap" transform="translate(328.4 897) scale(1 1.03)">(k) BDS-3 B1C</text>
<g fill="#3d8fcc" stroke="#1c4a72" stroke-width="0.6"><rect x="532.25" y="833.86" width="10.21" height="8.79"/><rect x="542.45" y="831.75" width="10.21" height="10.9"/><rect x="552.66" y="822.34" width="10.21" height="20.31"/><rect x="562.88" y="795.59" width="10.21" height="47.06"/><rect x="573.08" y="716.46" width="10.21" height="126.19"/><rect x="583.29" y="713.49" width="10.21" height="129.16"/><rect x="593.5" y="780.98" width="10.21" height="61.67"/><rect x="603.72" y="759.56" width="10.21" height="83.09"/><rect x="613.92" y="766.37" width="10.21" height="76.28"/><rect x="624.13" y="810.45" width="10.21" height="32.2"/><rect x="634.35" y="838.32" width="10.21" height="4.33"/></g>
<path d="M511.82 842.65v-2.2M511.82 694.05v2.2M532.25 842.65v-2.2M532.25 694.05v2.2M552.66 842.65v-2.2M552.66 694.05v2.2M573.08 842.65v-2.2M573.08 694.05v2.2M588.4 842.65v-2.2M588.4 694.05v2.2M603.72 842.65v-2.2M603.72 694.05v2.2M624.13 842.65v-2.2M624.13 694.05v2.2M644.55 842.65v-2.2M644.55 694.05v2.2M664.98 842.65v-2.2M664.98 694.05v2.2M493.1 842.65h2.2M683.8 842.65h-2.2M493.1 817.88h2.2M683.8 817.88h-2.2M493.1 793.12h2.2M683.8 793.12h-2.2M493.1 768.35h2.2M683.8 768.35h-2.2M493.1 743.58h2.2M683.8 743.58h-2.2M493.1 718.82h2.2M683.8 718.82h-2.2M493.1 694.05h2.2M683.8 694.05h-2.2" stroke="#262626" stroke-width="1" fill="none"/>
<rect x="493.1" y="694.05" width="190.7" height="148.6" fill="none" stroke="#262626" stroke-width="1.5"/>
<g font-size="8.8" fill="#262626" stroke="#262626" stroke-width="0.12"><text transform="translate(490.7 846.24) scale(1 1.14)" text-anchor="end">0</text><text transform="translate(490.7 821.47) scale(1 1.14)" text-anchor="end">200</text><text transform="translate(490.7 796.71) scale(1 1.14)" text-anchor="end">400</text><text transform="translate(490.7 771.94) scale(1 1.14)" text-anchor="end">600</text><text transform="translate(490.7 747.17) scale(1 1.14)" text-anchor="end">800</text><text transform="translate(490.7 722.41) scale(1 1.14)" text-anchor="end">1000</text><text transform="translate(490.7 697.64) scale(1 1.14)" text-anchor="end">1200</text><text transform="translate(511.82 853.65) scale(1 1.14)" text-anchor="middle">-7.5</text><text transform="translate(532.25 853.65) scale(1 1.14)" text-anchor="middle">-5.5</text><text transform="translate(552.66 853.65) scale(1 1.14)" text-anchor="middle">-3.5</text><text transform="translate(573.08 853.65) scale(1 1.14)" text-anchor="middle">-1.5</text><text transform="translate(588.4 853.65) scale(1 1.14)" text-anchor="middle">0</text><text transform="translate(603.72 853.65) scale(1 1.14)" text-anchor="middle">1.5</text><text transform="translate(624.13 853.65) scale(1 1.14)" text-anchor="middle">3.5</text><text transform="translate(644.55 853.65) scale(1 1.14)" text-anchor="middle">5.5</text><text transform="translate(664.98 853.65) scale(1 1.14)" text-anchor="middle">7.5</text></g>
<text font-size="9.6" fill="#262626" stroke="#262626" stroke-width="0.12" text-anchor="middle" transform="translate(467.5 768.35) rotate(-90) scale(1 1.08)">Frequency</text>
<text font-size="9.6" fill="#262626" stroke="#262626" stroke-width="0.12" text-anchor="middle" transform="translate(588.4 865.15) scale(1 1.08)">mm</text>
<text class="cap" transform="translate(560.1 897) scale(1 1.03)">(l) BDS-3 B2a</text>
<g fill="#3d8fcc" stroke="#1c4a72" stroke-width="0.6"><rect x="94.36" y="1046.58" width="10.21" height="25.32"/><rect x="104.57" y="1012.52" width="10.21" height="59.38"/><rect x="114.78" y="951.95" width="10.21" height="119.95"/><rect x="124.99" y="929.6" width="10.21" height="142.3"/><rect x="135.2" y="945.41" width="10.21" height="126.49"/><rect x="145.41" y="992.79" width="10.21" height="79.11"/><rect x="155.62" y="1046.58" width="10.21" height="25.32"/></g>
<path d="M53.52 1071.9v-2.2M53.52 923.3v2.2M73.94 1071.9v-2.2M73.94 923.3v2.2M94.36 1071.9v-2.2M94.36 923.3v2.2M114.78 1071.9v-2.2M114.78 923.3v2.2M130.1 1071.9v-2.2M130.1 923.3v2.2M145.41 1071.9v-2.2M145.41 923.3v2.2M165.83 1071.9v-2.2M165.83 923.3v2.2M186.25 1071.9v-2.2M186.25 923.3v2.2M206.68 1071.9v-2.2M206.68 923.3v2.2M34.8 1071.9h2.2M225.5 1071.9h-2.2M34.8 1042.18h2.2M225.5 1042.18h-2.2M34.8 1012.46h2.2M225.5 1012.46h-2.2M34.8 982.74h2.2M225.5 982.74h-2.2M34.8 953.02h2.2M225.5 953.02h-2.2M34.8 923.3h2.2M225.5 923.3h-2.2" stroke="#262626" stroke-width="1" fill="none"/>
<rect x="34.8" y="923.3" width="190.7" height="148.6" fill="none" stroke="#262626" stroke-width="1.5"/>
<g font-size="8.8" fill="#262626" stroke="#262626" stroke-width="0.12"><text transform="translate(32.4 1075.49) scale(1 1.14)" text-anchor="end">0</text><text transform="translate(32.4 1045.77) scale(1 1.14)" text-anchor="end">500</text><text transform="translate(32.4 1016.05) scale(1 1.14)" text-anchor="end">1000</text><text transform="translate(32.4 986.33) scale(1 1.14)" text-anchor="end">1500</text><text transform="translate(32.4 956.61) scale(1 1.14)" text-anchor="end">2000</text><text transform="translate(32.4 926.89) scale(1 1.14)" text-anchor="end">2500</text><text transform="translate(53.52 1082.9) scale(1 1.14)" text-anchor="middle">-7.5</text><text transform="translate(73.94 1082.9) scale(1 1.14)" text-anchor="middle">-5.5</text><text transform="translate(94.36 1082.9) scale(1 1.14)" text-anchor="middle">-3.5</text><text transform="translate(114.78 1082.9) scale(1 1.14)" text-anchor="middle">-1.5</text><text transform="translate(130.1 1082.9) scale(1 1.14)" text-anchor="middle">0</text><text transform="translate(145.41 1082.9) scale(1 1.14)" text-anchor="middle">1.5</text><text transform="translate(165.83 1082.9) scale(1 1.14)" text-anchor="middle">3.5</text><text transform="translate(186.25 1082.9) scale(1 1.14)" text-anchor="middle">5.5</text><text transform="translate(206.68 1082.9) scale(1 1.14)" text-anchor="middle">7.5</text></g>
<text font-size="9.6" fill="#262626" stroke="#262626" stroke-width="0.12" text-anchor="middle" transform="translate(9.2 997.6) rotate(-90) scale(1 1.08)">Frequency</text>
<text font-size="9.6" fill="#262626" stroke="#262626" stroke-width="0.12" text-anchor="middle" transform="translate(130.1 1094.4) scale(1 1.08)">mm</text>
<text class="cap" transform="translate(95.3 1126.1) scale(1 1.03)">(m) BDS-3 B3I</text>
</svg>
</body></html>
